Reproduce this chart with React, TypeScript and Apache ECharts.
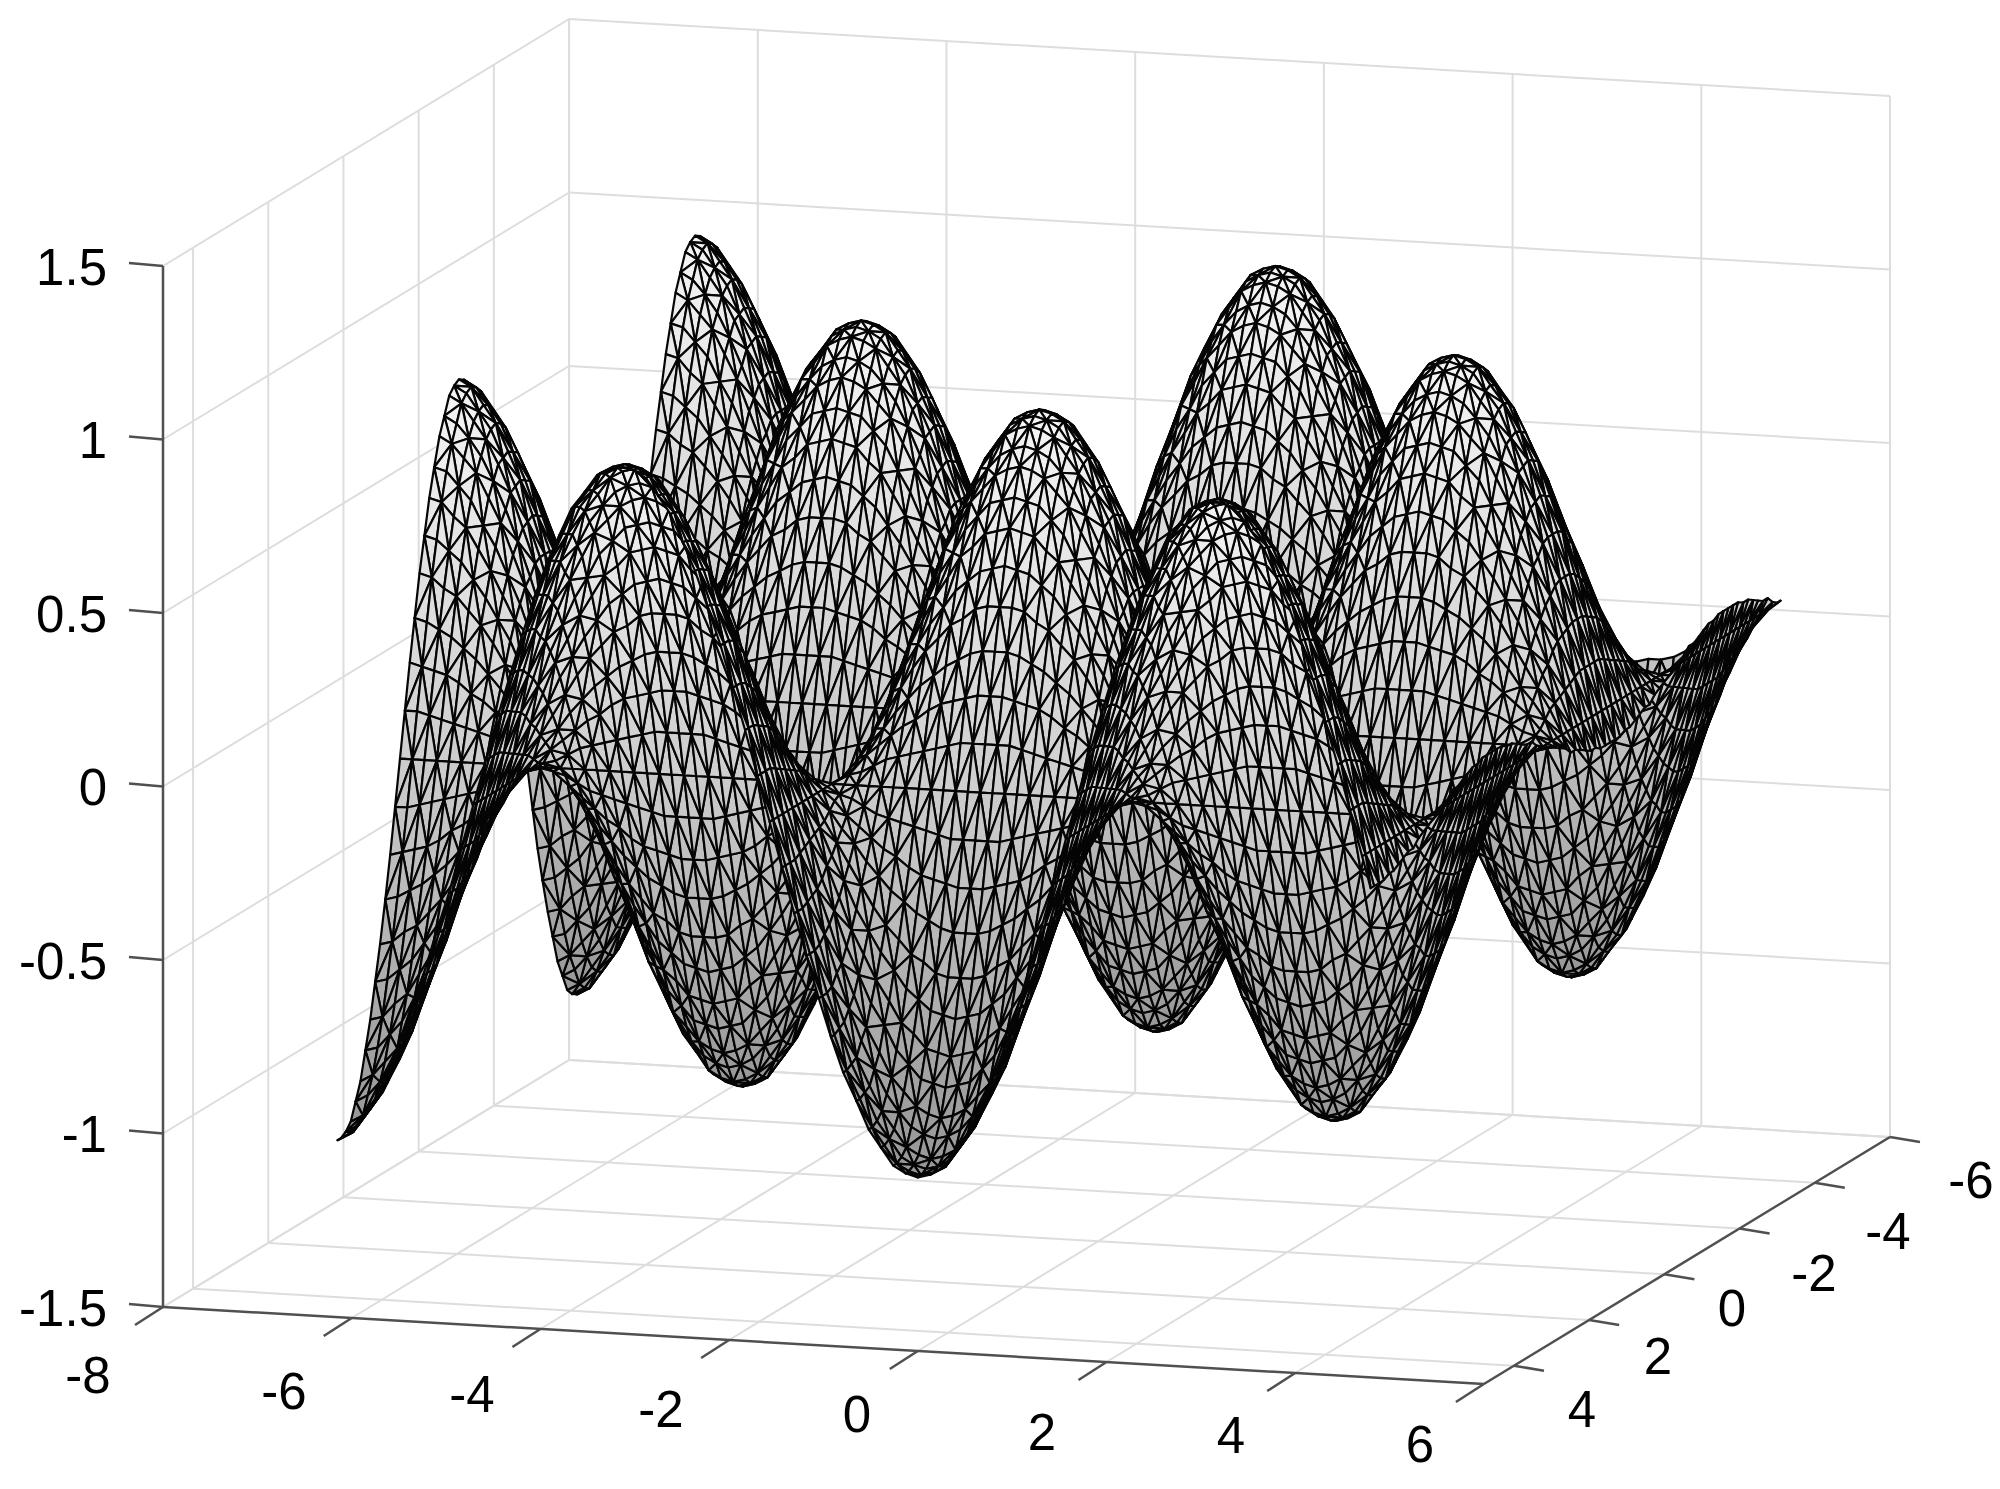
import React, { useEffect, useRef } from "react";
import * as echarts from "echarts";

// Surface heights are estimates: crests and troughs reach about +1 / -1,
// the back edge sits about 0.18 below the z = 0 plane near x = 3.14, the right edge ripples by about 0.09.
// Heights are in hundredths of a z unit. Each row is one constant-y line of the mesh, built of
// typed half-waves: u rises, d falls, nu and nd are the same waves below zero.
const xNodes = [-6.15,-6.02,-5.89,-5.76,-5.63,-5.5,-5.37,-5.24,-5.11,-4.97,-4.84,-4.71,-4.58,-4.45,-4.32,-4.19,-4.06,-3.93,-3.8,-3.67,-3.53,-3.4,-3.27,-3.14,-3.01,-2.88,-2.75,-2.62,-2.49,-2.36,-2.23,-2.09,-1.96,-1.83,-1.7,-1.57,-1.44,-1.31,-1.18,-1.05,-0.92,-0.79,-0.65,-0.52,-0.39,-0.26,-0.13,0,0.13,0.26,0.39,0.52,0.65,0.79,0.92,1.05,1.18,1.31,1.44,1.57,1.7,1.83,1.96,2.09,2.23,2.36,2.49,2.62,2.75,2.88,3.01,3.14,3.27,3.4,3.53,3.67,3.8,3.93,4.06,4.19,4.32,4.45,4.58,4.71,4.8];
const yNodes = [-6.1,-6.02,-5.89,-5.76,-5.63,-5.5,-5.37,-5.24,-5.11,-4.97,-4.84,-4.71,-4.58,-4.45,-4.32,-4.19,-4.06,-3.93,-3.8,-3.67,-3.53,-3.4,-3.27,-3.14,-3.01,-2.88,-2.75,-2.62,-2.49,-2.36,-2.23,-2.09,-1.96,-1.83,-1.7,-1.57,-1.44,-1.31,-1.18,-1.05,-0.92,-0.79,-0.65,-0.52,-0.39,-0.26,-0.13,0,0.13,0.26,0.39,0.52,0.65,0.79,0.92,1.05,1.18,1.31,1.44,1.57,1.7,1.83,1.96,2.09,2.23,2.36,2.49,2.62,2.75,2.88,3.01,3.14,3.27,3.4,3.53,3.67,3.8,3.93,4.06,4.19,4.32,4.45,4.58,4.71,4.8];

const u100 = [13,26,38,50,61,71,79,87,92,97,99,100];
const d100 = [99,97,92,87,79,71,61,50,38,26,13,0];
const nu100 = [-13,-26,-38,-50,-61,-71,-79,-87,-92,-97,-99,-100];
const nd100 = [-99,-97,-92,-87,-79,-71,-61,-50,-38,-26,-13,0];
const u99 = [13,26,38,50,60,70,78,86,91,96,98,99];
const d99 = [98,96,91,86,78,70,60,50,38,26,13,0];
const nu99 = [-13,-26,-38,-50,-60,-70,-78,-86,-91,-96,-98,-99];
const nd99 = [-98,-96,-91,-86,-78,-70,-60,-50,-38,-26,-13,0];
const u97 = [13,25,37,49,59,69,77,84,89,94,96,97];
const d97 = [96,94,89,84,77,69,59,49,37,25,13,0];
const nu97 = [-13,-25,-37,-49,-59,-69,-77,-84,-89,-94,-96,-97];
const nd97 = [-96,-94,-89,-84,-77,-69,-59,-49,-37,-25,-13,0];
const u92 = [12,24,35,46,56,65,73,80,85,89,91,92];
const d92 = [91,89,85,80,73,65,56,46,35,24,12,0];
const nu92 = [-12,-24,-35,-46,-56,-65,-73,-80,-85,-89,-91,-92];
const nd92 = [-91,-89,-85,-80,-73,-65,-56,-46,-35,-24,-12,0];
const u87 = [11,23,33,44,53,62,69,76,80,84,86,87];
const d87 = [86,84,80,76,69,62,53,44,33,23,11,0];
const nu87 = [-11,-23,-33,-44,-53,-62,-69,-76,-80,-84,-86,-87];
const nd87 = [-86,-84,-80,-76,-69,-62,-53,-44,-33,-23,-11,0];
const u79 = [10,21,30,40,48,56,62,69,73,77,78,79];
const d79 = [78,77,73,69,62,56,48,40,30,21,10,0];
const nu79 = [-10,-21,-30,-40,-48,-56,-62,-69,-73,-77,-78,-79];
const nd79 = [-78,-77,-73,-69,-62,-56,-48,-40,-30,-21,-10,0];
const u71 = [9,18,27,36,43,50,56,62,65,69,70,71];
const d71 = [70,69,65,62,56,50,43,36,27,18,9,0];
const nu71 = [-9,-18,-27,-36,-43,-50,-56,-62,-65,-69,-70,-71];
const nd71 = [-70,-69,-65,-62,-56,-50,-43,-36,-27,-18,-9,0];
const u61 = [8,16,23,31,37,43,48,53,56,59,60,61];
const d61 = [60,59,56,53,48,43,37,31,23,16,8,0];
const nu61 = [-8,-16,-23,-31,-37,-43,-48,-53,-56,-59,-60,-61];
const nd61 = [-60,-59,-56,-53,-48,-43,-37,-31,-23,-16,-8,0];
const u50 = [7,13,19,25,31,36,40,44,46,49,50,50];
const d50 = [50,49,46,44,40,36,31,25,19,13,7,0];
const nu50 = [-7,-13,-19,-25,-31,-36,-40,-44,-46,-49,-50,-50];
const nd50 = [-50,-49,-46,-44,-40,-36,-31,-25,-19,-13,-7,0];
const u38 = [5,10,14,19,23,27,30,33,35,37,38,38];
const d38 = [38,37,35,33,30,27,23,19,14,10,5,0];
const nu38 = [-5,-10,-14,-19,-23,-27,-30,-33,-35,-37,-38,-38];
const nd38 = [-38,-37,-35,-33,-30,-27,-23,-19,-14,-10,-5,0];
const u26 = [3,7,10,13,16,18,21,23,24,25,26,26];
const d26 = [26,25,24,23,21,18,16,13,10,7,3,0];
const nu26 = [-3,-7,-10,-13,-16,-18,-21,-23,-24,-25,-26,-26];
const nd26 = [-26,-25,-24,-23,-21,-18,-16,-13,-10,-7,-3,0];
const u13 = [2,3,5,7,8,9,10,11,12,13,13,13];
const d13 = [13,13,12,11,10,9,8,7,5,3,2,0];
const nu13 = [-2,-3,-5,-7,-8,-9,-10,-11,-12,-13,-13,-13];
const nd13 = [-13,-13,-12,-11,-10,-9,-8,-7,-5,-3,-2,0];
const u18 = [2,5,7,9,11,13,14,16,17,17,18,18];
const d18 = [18,17,17,16,14,13,11,9,7,5,2,0];
const nu18 = [-2,-5,-7,-9,-11,-13,-14,-16,-17,-17,-18,-18];
const nd18 = [-18,-17,-17,-16,-14,-13,-11,-9,-7,-5,-2,0];
const flat = [0,0,0,0,0,0,0,0,0,0,0,0];

const p100 = [...d100,...nu100,...nd100,...u100,...d100,...nu100,...nd100,9];
const n100 = [...nd100,...u100,...d100,...nu100,...nd100,...u100,...d100,-9];
const p99 = [...d99,...nu99,...nd99,...u99,...d99,...nu99,...nd99,9];
const n99 = [...nd99,...u99,...d99,...nu99,...nd99,...u99,...d99,-9];
const p97 = [...d97,...nu97,...nd97,...u97,...d97,...nu97,...nd97,9];
const n97 = [...nd97,...u97,...d97,...nu97,...nd97,...u97,...d97,-9];
const p92 = [...d92,...nu92,...nd92,...u92,...d92,...nu92,...nd92,8];
const n92 = [...nd92,...u92,...d92,...nu92,...nd92,...u92,...d92,-8];
const p87 = [...d87,...nu87,...nd87,...u87,...d87,...nu87,...nd87,8];
const n87 = [...nd87,...u87,...d87,...nu87,...nd87,...u87,...d87,-8];
const p79 = [...d79,...nu79,...nd79,...u79,...d79,...nu79,...nd79,7];
const n79 = [...nd79,...u79,...d79,...nu79,...nd79,...u79,...d79,-7];
const p71 = [...d71,...nu71,...nd71,...u71,...d71,...nu71,...nd71,6];
const n71 = [...nd71,...u71,...d71,...nu71,...nd71,...u71,...d71,-6];
const p61 = [...d61,...nu61,...nd61,...u61,...d61,...nu61,...nd61,5];
const n61 = [...nd61,...u61,...d61,...nu61,...nd61,...u61,...d61,-5];
const p50 = [...d50,...nu50,...nd50,...u50,...d50,...nu50,...nd50,5];
const n50 = [...nd50,...u50,...d50,...nu50,...nd50,...u50,...d50,-5];
const p38 = [...d38,...nu38,...nd38,...u38,...d38,...nu38,...nd38,3];
const n38 = [...nd38,...u38,...d38,...nu38,...nd38,...u38,...d38,-3];
const p26 = [...d26,...nu26,...nd26,...u26,...d26,...nu26,...nd26,2];
const n26 = [...nd26,...u26,...d26,...nu26,...nd26,...u26,...d26,-2];
const p18 = [...d18,...nu18,...nd18,...u18,...d18,...nu18,...nd18,2];
const p13 = [...d13,...nu13,...nd13,...u13,...d13,...nu13,...nd13,1];
const n13 = [...nd13,...u13,...d13,...nu13,...nd13,...u13,...d13,-1];
const p0 = [...flat,...flat,...flat,...flat,...flat,...flat,...flat,0];

// One entry per yNodes value, back of the box first.
const zRows = [
  p18,p26,p38,p50,p61,p71,p79,p87,p92,p97,p99,p100,p99,p97,p92,p87,p79,p71,p61,p50,p38,p26,p13,
  p0,n13,n26,n38,n50,n61,n71,n79,n87,n92,n97,n99,n100,n99,n97,n92,n87,n79,n71,n61,n50,n38,n26,n13,
  p0,p13,p26,p38,p50,p61,p71,p79,p87,p92,p97,p99,p100,p99,p97,p92,p87,p79,p71,p61,p50,p38,p26,p13,
  p0,n13,n26,n38,n50,n61,n71,n79,n87,n92,n97,n99,n100,n100,
];

const xTicks = [-8,-6,-4,-2,0,2,4,6];
const yTicks = [-6,-4,-2,0,2,4];
const zTicks = [-1.5,-1,-0.5,0,0.5,1,1.5];
const xLabels = ["-8","-6","-4","-2","0","2","4","6"];
const yLabels = ["-6","-4","-2","0","2","4"];
const zLabels = ["-1.5","-1","-0.5","0","0.5","1","1.5"];

// Axis box limits and the projection of data units on to the page, in pixels.
const X_MIN = -8, X_MAX = 6, Y_MIN = -6, Y_MAX = 4.8, Z_MIN = -1.5, Z_MAX = 1.5;
const ORIGIN = [163, 1307];
const X_STEP = [94.35, 5.5];
const Y_STEP = [37.6, -22.87];
const Z_STEP = 347;

const project = (x: number, y: number, z: number) => [
  ORIGIN[0] + (x - X_MIN) * X_STEP[0] + (Y_MAX - y) * Y_STEP[0],
  ORIGIN[1] + (x - X_MIN) * X_STEP[1] + (Y_MAX - y) * Y_STEP[1] - (z - Z_MIN) * Z_STEP,
];

// Label centres on the page.
const xLabelPos = [[88,1375],[284,1391],[472,1394],[661,1409],[857,1414],[1042,1432],[1231,1435],[1420,1444]];
const yLabelPos = [[1971,1180],[1888,1231],[1814,1273],[1732,1308],[1658,1356],[1582,1409]];
const zLabelRight = 107;

function buildTriangles() {
  const out: number[][] = [];
  for (let j = 0; j < yNodes.length - 1; j++) {
    for (let i = 0; i < xNodes.length - 1; i++) {
      const a = [xNodes[i], yNodes[j], zRows[j][i] / 100];
      const b = [xNodes[i + 1], yNodes[j], zRows[j][i + 1] / 100];
      const c = [xNodes[i + 1], yNodes[j + 1], zRows[j + 1][i + 1] / 100];
      const d = [xNodes[i], yNodes[j + 1], zRows[j + 1][i] / 100];
      if ((i + j) % 2 === 0) {
        out.push([...a, ...b, ...c], [...a, ...c, ...d]);
      } else {
        out.push([...a, ...b, ...d], [...b, ...c, ...d]);
      }
    }
  }
  return out;
}

function buildGrid() {
  const s: number[][] = [];
  for (const x of xTicks) {
    s.push([x, Y_MIN, Z_MIN, x, Y_MIN, Z_MAX]);
    s.push([x, Y_MIN, Z_MIN, x, Y_MAX, Z_MIN]);
  }
  for (const y of yTicks) {
    s.push([X_MIN, y, Z_MIN, X_MIN, y, Z_MAX]);
    s.push([X_MIN, y, Z_MIN, X_MAX, y, Z_MIN]);
  }
  for (const z of zTicks) {
    s.push([X_MIN, Y_MIN, z, X_MAX, Y_MIN, z]);
    s.push([X_MIN, Y_MIN, z, X_MIN, Y_MAX, z]);
  }
  return s;
}

function buildAxes() {
  return [
    [X_MIN, Y_MAX, Z_MIN, X_MIN, Y_MAX, Z_MAX],
    [X_MIN, Y_MAX, Z_MIN, X_MAX, Y_MAX, Z_MIN],
    [X_MAX, Y_MAX, Z_MIN, X_MAX, Y_MIN, Z_MIN],
  ];
}

function buildTicks() {
  const t: number[][] = [];
  for (const x of xTicks) t.push([x, Y_MAX, Z_MIN, -28, 18]);
  for (const y of yTicks) t.push([X_MAX, y, Z_MIN, 30, 5]);
  for (const z of zTicks) t.push([X_MIN, Y_MAX, z, -34, -3]);
  return t;
}

const fillFor = (z: number) => {
  const v = Math.round(z < 0 ? 205 + z * 55 : 205 + z * 40);
  return `rgb(${v},${v},${v})`;
};

const segmentSeries = (data: number[][], stroke: string, lineWidth: number) => ({
  type: "custom",
  coordinateSystem: "cartesian2d",
  silent: true,
  clip: false,
  progressive: 0,
  data,
  renderItem: (_: any, api: any) => {
    const p = api.coord(project(api.value(0), api.value(1), api.value(2)));
    const q = api.coord(project(api.value(3), api.value(4), api.value(5)));
    return {
      type: "line",
      shape: { x1: p[0], y1: p[1], x2: q[0], y2: q[1] },
      style: { stroke, lineWidth, fill: "none" },
    };
  },
});

export default function App() {
  const ref = useRef<HTMLDivElement>(null);
  useEffect(() => {
    document.body.style.margin = "0";
    const chart = echarts.init(ref.current!, undefined, { renderer: "svg" });
    const font = '51px "Liberation Sans", Arial, sans-serif';
    const label = (text: string, x: number, y: number, textAlign = "center") => ({
      type: "text",
      style: { text, x, y, font, fill: "#000000", textAlign, textVerticalAlign: "middle" },
    });
    chart.setOption({
      animation: false,
      backgroundColor: "#ffffff",
      grid: { left: 0, right: 0, top: 0, bottom: 0 },
      xAxis: { type: "value", min: 0, max: 2000, show: false },
      yAxis: { type: "value", min: 0, max: 1489, inverse: true, show: false },
      graphic: [
        ...xLabels.map((t, i) => label(t, xLabelPos[i][0], xLabelPos[i][1])),
        ...yLabels.map((t, i) => label(t, yLabelPos[i][0], yLabelPos[i][1])),
        ...zLabels.map((t, i) => label(t, zLabelRight, project(X_MIN, Y_MAX, zTicks[i])[1] + 1, "right")),
      ],
      series: [
        segmentSeries(buildGrid(), "#dddddd", 2),
        segmentSeries(buildAxes(), "#505050", 2.5),
        {
          type: "custom",
          coordinateSystem: "cartesian2d",
          silent: true,
          clip: false,
          progressive: 0,
          data: buildTicks(),
          renderItem: (_: any, api: any) => {
            const p = api.coord(project(api.value(0), api.value(1), api.value(2)));
            return {
              type: "line",
              shape: { x1: p[0], y1: p[1], x2: p[0] + api.value(3), y2: p[1] + api.value(4) },
              style: { stroke: "#505050", lineWidth: 2.5, fill: "none" },
            };
          },
        },
        {
          type: "custom",
          coordinateSystem: "cartesian2d",
          silent: true,
          clip: false,
          progressive: 0,
          data: buildTriangles(),
          renderItem: (_: any, api: any) => {
            const pts = [0, 3, 6].map((k) =>
              api.coord(project(api.value(k), api.value(k + 1), api.value(k + 2)))
            );
            const mean = (api.value(2) + api.value(5) + api.value(8)) / 3;
            return {
              type: "polygon",
              shape: { points: pts },
              style: { fill: fillFor(mean), stroke: "#050505", lineWidth: 2.2, lineJoin: "round" },
            };
          },
        },
      ],
    });
    return () => chart.dispose();
  }, []);
  return <div ref={ref} style={{ position: "absolute", left: 0, top: 0, width: 2000, height: 1489 }} />;
}
